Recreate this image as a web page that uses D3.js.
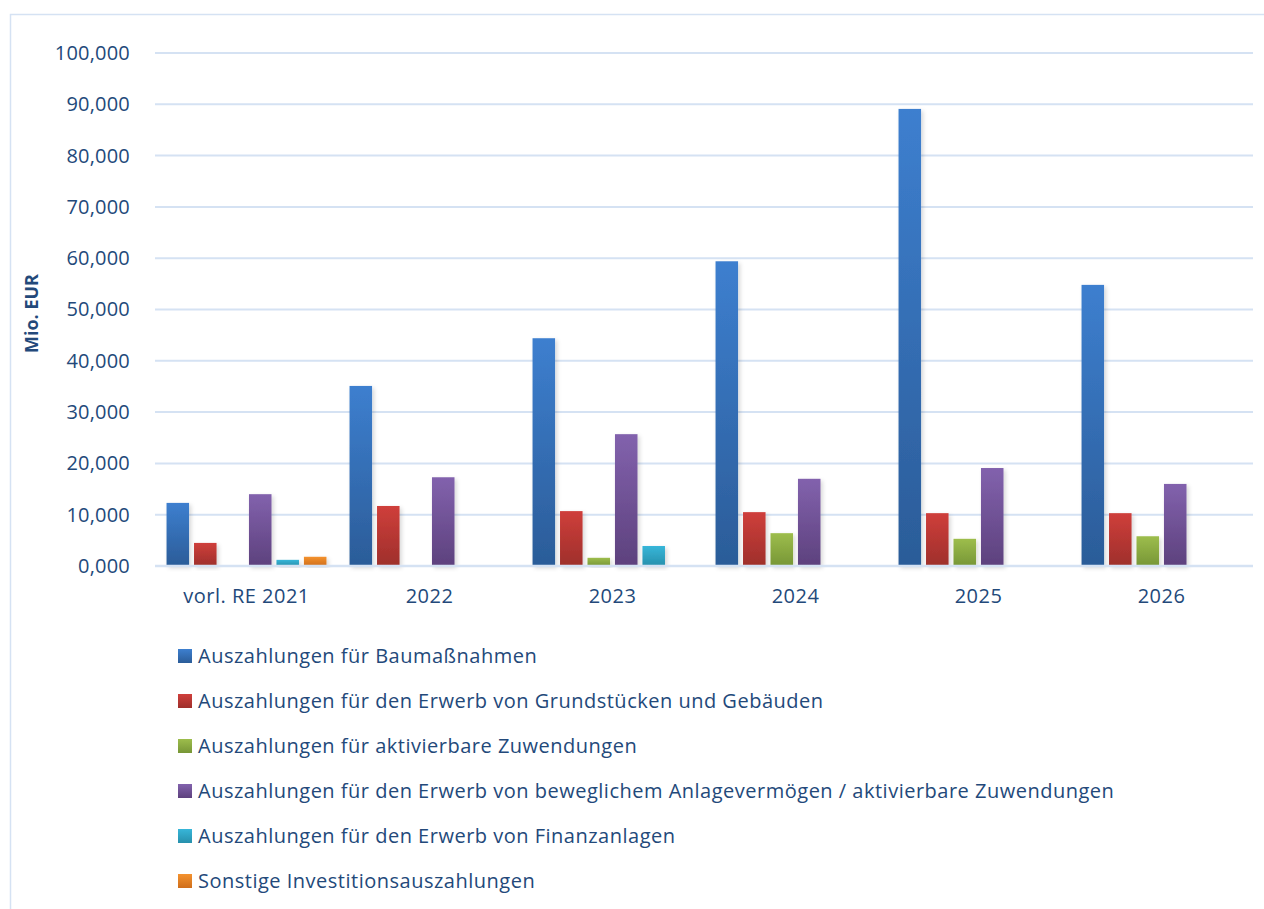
<!DOCTYPE html>
<html>
<head>
<meta charset="utf-8">
<script src="https://cdn.jsdelivr.net/npm/d3@7"></script>
<style>
  body { margin: 0; background: #fff; }
  svg { display: block; font-family: "Open Sans", "Noto Sans", sans-serif; }
</style>
</head>
<body>
<svg width="1264" height="909"></svg>
<script>
// categories and series (Mio. EUR)
const years = ["vorl. RE 2021", "2022", "2023", "2024", "2025", "2026"];
const seriesNames = [
    "Auszahlungen für Baumaßnahmen",
    "Auszahlungen für den Erwerb von Grundstücken und Gebäuden",
    "Auszahlungen für aktivierbare Zuwendungen",
    "Auszahlungen für den Erwerb von beweglichem Anlagevermögen / aktivierbare Zuwendungen",
    "Auszahlungen für den Erwerb von Finanzanlagen",
    "Sonstige Investitionsauszahlungen"
];
const baumassnahmen = [12.3, 35.1, 44.4, 59.4, 89.1, 54.8];
const grundstuecke = [4.5, 11.7, 10.7, 10.5, 10.3, 10.3];
const zuwendungen = [0, 0, 1.6, 6.4, 5.3, 5.8];
const anlagevermoegen = [14.0, 17.3, 25.7, 17.0, 19.1, 16.0];
const finanzanlagen = [1.2, 0, 3.9, 0, 0, 0];
const sonstige = [1.8, 0, 0, 0, 0, 0];
const yTicks = [0, 10, 20, 30, 40, 50, 60, 70, 80, 90, 100];

const allSeries = [baumassnahmen, grundstuecke, zuwendungen, anlagevermoegen, finanzanlagen, sonstige];
// top / bottom gradient colours
const colors = [
    ["#3d7fcf", "#2b5c98"],
    ["#cf3f3b", "#9e2f2b"],
    ["#9dbd4c", "#779636"],
    ["#8262ad", "#5d417d"],
    ["#37b6d9", "#2790ac"],
    ["#f4922e", "#cf6e1b"]
];

const textColor = "#23497a";
const gridColor = "#d5e2f3";
const font = "'Open Sans', 'Noto Sans', sans-serif";

var svg = d3.select("svg");
var defs = svg.append("defs");

colors.forEach(function(c, i) {
    var g = defs.append("linearGradient")
        .attr("id", "grad" + i)
        .attr("x1", 0).attr("y1", 0).attr("x2", 0).attr("y2", 1);
    g.append("stop").attr("offset", "0%").attr("stop-color", c[0]);
    g.append("stop").attr("offset", "100%").attr("stop-color", c[1]);
});

var shadow = defs.append("filter").attr("id", "shadow")
    .attr("x", "-30%").attr("y", "-10%").attr("width", "160%").attr("height", "130%");
shadow.append("feDropShadow")
    .attr("dx", 2).attr("dy", 2).attr("stdDeviation", 2)
    .attr("flood-color", "#000").attr("flood-opacity", 0.16);

// outer frame
svg.append("rect")
    .attr("x", 10.5).attr("y", 14.5)
    .attr("width", 1270).attr("height", 920)
    .attr("fill", "none")
    .attr("stroke", gridColor)
    .attr("stroke-width", 1.5);

var plotLeft = 155, plotRight = 1253, plotTop = 53, plotBottom = 566;

var x0 = d3.scaleBand().domain(years).range([plotLeft, plotRight]).paddingInner(0).paddingOuter(0);
var x1 = d3.scaleBand().domain(d3.range(seriesNames.length))
    .range([0, x0.bandwidth()]).paddingInner(0.18).paddingOuter(0.42);
var y = d3.scaleLinear().domain([0, 100]).range([plotBottom, plotTop]);

var de = d3.formatLocale({ decimal: ",", thousands: ".", grouping: [3], currency: ["", " €"] });
var fmt = de.format(".3f");

// grid lines
svg.append("g").selectAll("line")
    .data(yTicks.filter(function(d) { return d > 0; }))
    .enter().append("line")
    .attr("x1", plotLeft).attr("x2", plotRight)
    .attr("y1", function(d) { return y(d); })
    .attr("y2", function(d) { return y(d); })
    .attr("stroke", gridColor)
    .attr("stroke-width", 2);

// y axis labels
var yAxis = d3.axisLeft(y).tickValues(yTicks).tickFormat(fmt).tickSize(0).tickPadding(0);
var yg = svg.append("g")
    .attr("transform", "translate(" + (plotLeft - 25) + ",0)")
    .call(yAxis);
yg.select(".domain").remove();
yg.selectAll("text")
    .attr("fill", textColor)
    .style("font-size", "20px")
    .style("letter-spacing", "0.2px")
    .style("font-family", font);

// bars
var groups = svg.append("g").selectAll("g")
    .data(years)
    .enter().append("g")
    .attr("transform", function(d) { return "translate(" + x0(d) + ",0)"; });

groups.selectAll("rect")
    .data(function(d, i) {
        return allSeries.map(function(s, k) { return { k: k, v: s[i] }; })
            .filter(function(e) { return e.v > 0; });
    })
    .enter().append("rect")
    .attr("x", function(d) { return x1(d.k); })
    .attr("width", x1.bandwidth())
    .attr("y", function(d) { return y(d.v); })
    .attr("height", function(d) { return y(0) - y(d.v); })
    .attr("fill", function(d) { return "url(#grad" + d.k + ")"; })
    .attr("filter", "url(#shadow)");

// baseline
svg.append("line")
    .attr("x1", plotLeft).attr("x2", plotRight)
    .attr("y1", y(0)).attr("y2", y(0))
    .attr("stroke", gridColor)
    .attr("stroke-width", 2.5);

// x axis labels
var xAxis = d3.axisBottom(x0).tickSize(0).tickPadding(0);
var xg = svg.append("g")
    .attr("transform", "translate(0," + (y(0) + 23) + ")")
    .call(xAxis);
xg.select(".domain").remove();
xg.selectAll("text")
    .attr("fill", textColor)
    .attr("dy", "0.71em")
    .style("font-size", "20px")
    .style("letter-spacing", "0.5px")
    .style("font-family", font);

// y axis title
svg.append("text")
    .attr("transform", "translate(38," + ((plotTop + plotBottom) / 2 + 4) + ") rotate(-90)")
    .attr("text-anchor", "middle")
    .attr("fill", textColor)
    .style("font-size", "18px")
    .style("font-weight", "bold")
    .text("Mio. EUR");

// legend
var legend = svg.append("g").selectAll("g")
    .data(seriesNames)
    .enter().append("g")
    .attr("transform", function(d, i) { return "translate(178," + (656 + i * 45) + ")"; });

legend.append("rect")
    .attr("x", 0).attr("y", -7)
    .attr("width", 14).attr("height", 14)
    .attr("fill", function(d, i) { return "url(#grad" + i + ")"; });

legend.append("text")
    .attr("x", 20)
    .attr("dy", "0.35em")
    .attr("fill", textColor)
    .style("font-size", "20px")
    .style("letter-spacing", "0.5px")
    .text(function(d) { return d; });
</script>
</body>
</html>
